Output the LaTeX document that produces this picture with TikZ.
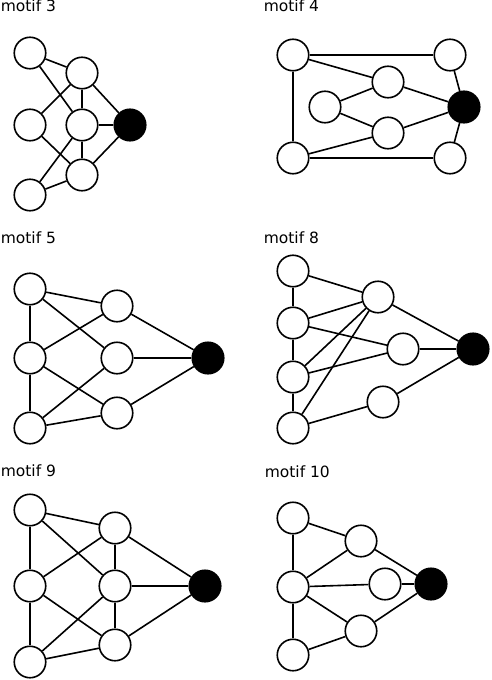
\documentclass[tikz,border=0pt]{standalone}
\usepackage{fontspec}
\setmainfont{DejaVu Sans}
\usepackage{tikz}
\usetikzlibrary{positioning}

\begin{document}
\begin{tikzpicture}[x=1pt, y=-1pt, line width=1.6pt,
    vtx/.style={circle, draw, fill=white, minimum size=31.5pt, inner sep=0pt},
    hub/.style={vtx, fill=black},
    ttl/.style={anchor=base west, inner sep=0pt, font=\fontsize{15.5}{18}\selectfont}]
  \useasboundingbox (0,0) rectangle (491,680);
  % motif 3
  \node[ttl] (t3) at (0,11) {motif 3};
  \node[vtx] (m3a) at (30,53) {};
  \node[vtx] (m3b) at (82,73) {};
  \node[vtx] (m3c) at (30,125) {};
  \node[vtx] (m3d) at (82,125) {};
  \node[hub] (m3e) at (130,125) {};
  \node[vtx] (m3f) at (82,175) {};
  \node[vtx] (m3g) at (30,195) {};
  \foreach \u/\v in {a/b,a/d,b/c,b/d,b/e,c/f,d/g,d/e,d/f,f/g,f/e}
    \draw (m3\u) -- (m3\v);
  % motif 4
  \node[ttl] (t4) at (263,11) {motif 4};
  \node[vtx] (m4a) at (293,55) {};
  \node[vtx] (m4b) at (450,55) {};
  \node[vtx] (m4c) at (388,82) {};
  \node[vtx] (m4d) at (325,107) {};
  \node[vtx] (m4e) at (388,133) {};
  \node[hub] (m4f) at (464,107) {};
  \node[vtx] (m4g) at (293,158) {};
  \node[vtx] (m4h) at (450,158) {};
  \foreach \u/\v in {a/b,a/g,a/c,c/d,d/e,e/g,g/h,c/f,e/f,b/f,h/f}
    \draw (m4\u) -- (m4\v);
  % motif 5
  \node[ttl] (t5) at (0,243) {motif 5};
  \node[vtx] (m5a) at (30,289) {};
  \node[vtx] (m5b) at (117,306) {};
  \node[vtx] (m5c) at (30,358) {};
  \node[vtx] (m5d) at (117,358) {};
  \node[hub] (m5e) at (208,358) {};
  \node[vtx] (m5f) at (117,413) {};
  \node[vtx] (m5g) at (30,428) {};
  \foreach \u/\v in {a/b,a/c,a/d,c/b,c/f,c/g,g/d,g/f,b/e,d/e,f/e}
    \draw (m5\u) -- (m5\v);
  % motif 8
  \node[ttl] (t8) at (263,243) {motif 8};
  \node[vtx] (m8a) at (293,271) {};
  \node[vtx] (m8b) at (293,323) {};
  \node[vtx] (m8c) at (293,377) {};
  \node[vtx] (m8d) at (293,428) {};
  \node[vtx] (m8e) at (378,297) {};
  \node[vtx] (m8f) at (403,349) {};
  \node[vtx] (m8g) at (383,402) {};
  \node[hub] (m8h) at (473,349) {};
  \foreach \u/\v in {a/b,b/c,c/d,a/e,b/e,b/f,c/e,c/f,d/e,d/g,e/h,f/h,g/h}
    \draw (m8\u) -- (m8\v);
  % motif 9
  \node[ttl] (t9) at (0,476) {motif 9};
  \node[vtx] (m9a) at (30,510) {};
  \node[vtx] (m9b) at (115,528) {};
  \node[vtx] (m9c) at (30,586) {};
  \node[vtx] (m9d) at (115,586) {};
  \node[hub] (m9e) at (205,586) {};
  \node[vtx] (m9f) at (115,645) {};
  \node[vtx] (m9g) at (30,662) {};
  \foreach \u/\v in {a/b,a/c,a/d,c/b,b/d,c/f,c/g,g/d,d/f,g/f,b/e,d/e,f/e}
    \draw (m9\u) -- (m9\v);
  % motif 10
  \node[ttl] (t10) at (264,477) {motif 10};
  \node[vtx] (m10a) at (293,518) {};
  \node[vtx] (m10b) at (361,541) {};
  \node[vtx] (m10c) at (293,587) {};
  \node[vtx] (m10d) at (385,584) {};
  \node[hub] (m10e) at (431,584) {};
  \node[vtx] (m10f) at (361,631) {};
  \node[vtx] (m10g) at (293,655) {};
  \foreach \u/\v in {a/b,a/c,c/b,c/d,c/f,c/g,g/f,b/e,d/e,f/e}
    \draw (m10\u) -- (m10\v);
\end{tikzpicture}
\end{document}
